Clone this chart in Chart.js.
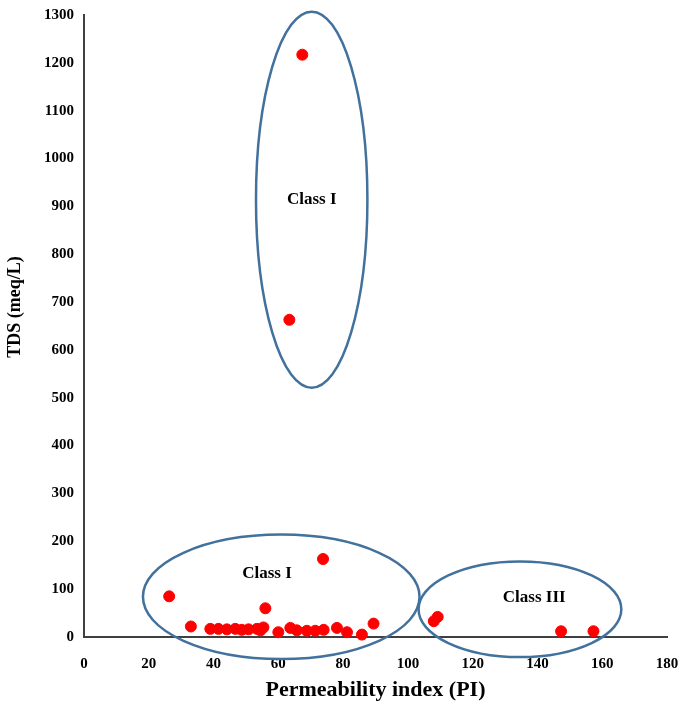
<!DOCTYPE html>
<html>
<head>
<meta charset="utf-8">
<script src="https://cdn.jsdelivr.net/npm/chart.js@4.4.0/dist/chart.umd.min.js"></script>
<style>
  html, body { margin: 0; padding: 0; background: #fff; }
  #wrap { width: 689px; height: 706px; }
</style>
</head>
<body>
<div id="wrap"><canvas id="cnv" width="689" height="706"></canvas></div>
<script>
// values
var piValues = [67.4, 63.4, 26.3, 73.8, 56.0, 33.0,
  39.0, 41.5, 44.1, 46.7, 48.7, 50.8, 53.4, 55.4, 54.5, 60.0,
  63.7, 65.7, 68.8, 71.4, 74.0, 78.1, 81.2, 85.8, 89.4,
  108.0, 109.2, 147.3, 157.3];
var tdsValues = [1217, 663, 85, 163, 60, 22,
  17, 17, 16, 17, 15, 16, 17, 20, 14, 10,
  19, 14, 13, 13, 15, 19, 10, 5, 28,
  33, 42, 12, 12];
var xTicks = [0, 20, 40, 60, 80, 100, 120, 140, 160, 180];
var yTicks = [0, 100, 200, 300, 400, 500, 600, 700, 800, 900, 1000, 1100, 1200, 1300];

// class ellipses in data units: centre x, centre y, radius x, radius y
var classNames = ["Class I", "Class I", "Class III"];
var classCx = [70.3, 60.9, 134.6];
var classCy = [914, 84, 58];
var classRx = [17.2, 42.7, 31.3];
var classRy = [393, 130, 100];
var labelX = [70.3, 56.5, 139];
var labelY = [914, 133, 83];

var points = [];
for (let i = 0; i < piValues.length; i++) {
  points.push({x: piValues[i], y: tdsValues[i]});
}

var ellipsePlugin = {
  id: 'classEllipses',
  afterDatasetsDraw: function(chart) {
    var c = chart.ctx;
    var xs = chart.scales.x, ys = chart.scales.y;
    c.save();
    for (let i = 0; i < classNames.length; i++) {
      var cx = xs.getPixelForValue(classCx[i]);
      var cy = ys.getPixelForValue(classCy[i]);
      var rx = Math.abs(xs.getPixelForValue(classCx[i] + classRx[i]) - cx);
      var ry = Math.abs(ys.getPixelForValue(classCy[i] + classRy[i]) - cy);
      c.beginPath();
      c.ellipse(cx, cy, rx, ry, 0, 0, Math.PI * 2);
      c.strokeStyle = '#41719c';
      c.lineWidth = 2.5;
      c.stroke();
      c.fillStyle = '#000';
      c.font = 'bold 17px "Liberation Serif"';
      c.textAlign = 'center';
      c.textBaseline = 'middle';
      c.fillText(classNames[i], xs.getPixelForValue(labelX[i]), ys.getPixelForValue(labelY[i]));
    }
    // y axis title, sits a bit above the middle of the axis in the original
    c.translate(15, 307);
    c.rotate(-Math.PI / 2);
    c.font = 'bold 18px "Liberation Serif"';
    c.fillText('TDS (meq/L)', 0, 0);
    c.restore();
  }
};

var tickFont = {family: '"Liberation Serif"', size: 15, weight: 'bold'};

new Chart(document.getElementById('cnv').getContext('2d'), {
  type: 'scatter',
  data: {
    datasets: [{
      label: 'TDS',
      data: points,
      backgroundColor: '#ff0000',
      borderColor: '#ff0000',
      pointRadius: 5.5,
      pointHoverRadius: 5.5
    }]
  },
  options: {
    responsive: false,
    animation: false,
    clip: false,
    layout: { padding: {left: 0, right: 22, top: 15, bottom: 0} },
    plugins: {
      legend: { display: false },
      tooltip: { enabled: false }
    },
    scales: {
      x: {
        type: 'linear',
        min: 0, max: 180,
        afterBuildTicks: function(axis) { axis.ticks = xTicks.map(function(v) { return {value: v}; }); },
        afterFit: function(axis) {
          axis.height = 69;
          axis.paddingLeft = 0;
          axis.paddingRight = 0;
        },
        grid: { display: false, drawTicks: false },
        border: { color: '#404040', width: 2 },
        ticks: { color: '#000', font: tickFont, padding: 18, maxRotation: 0,
          callback: function(v) { return String(v); } },
        title: { display: true, text: 'Permeability index (PI)', color: '#000',
          font: {family: '"Liberation Serif"', size: 22, weight: 'bold'}, padding: {top: 6, bottom: 2} }
      },
      y: {
        type: 'linear',
        min: 0, max: 1300,
        afterBuildTicks: function(axis) { axis.ticks = yTicks.map(function(v) { return {value: v}; }); },
        afterFit: function(axis) {
          axis.width = 84;
          axis.paddingTop = 0;
          axis.paddingBottom = 0;
        },
        grid: { display: false, drawTicks: false },
        border: { color: '#404040', width: 2 },
        ticks: { color: '#000', font: tickFont, padding: 10,
          callback: function(v) { return String(v); } },
        title: { display: false }
      }
    }
  },
  plugins: [ellipsePlugin]
});
</script>
</body>
</html>
